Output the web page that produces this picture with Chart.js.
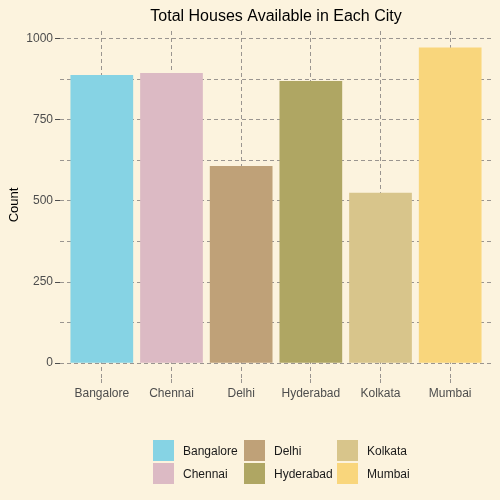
<!DOCTYPE html>
<html>
<head>
<meta charset="utf-8">
<script src="https://cdn.jsdelivr.net/npm/chart.js@4"></script>
<style>
  html, body { margin: 0; padding: 0; background: #FCF3DE; }
  #wrap { position: relative; width: 500px; height: 500px; }
  #legend {
    position: absolute; left: 153px; top: 440px;
    display: grid; grid-template-rows: 21px 21px; grid-auto-flow: column;
    grid-template-columns: 91px 93px 100px; row-gap: 2px;
    font: 12px "Liberation Sans", Arial, sans-serif; color: #1a1a1a;
  }
  .item { display: flex; align-items: center; }
  .sw { width: 21px; height: 21px; margin-right: 9px; }
</style>
</head>
<body>
<div id="wrap">
  <canvas id="chart" width="500" height="500"></canvas>
  <div id="legend"></div>
</div>
<script>
const cities = ["Bangalore", "Chennai", "Delhi", "Hyderabad", "Kolkata", "Mumbai"];
const counts = [888, 894, 608, 870, 525, 973];
const colors = ["#86D3E4", "#DCBAC4", "#BFA178", "#AFA663", "#D8C58B", "#F9D67C"];
const yTicks = [0, 125, 250, 375, 500, 625, 750, 875, 1000];

const gridColor = "#9a9590";
const font = "'Liberation Sans', Arial, sans-serif";

// title centred over the plot panel
const panelTitle = {
    id: "panelTitle",
    afterDraw(chart) {
        const ctx = chart.ctx, a = chart.chartArea;
        ctx.save();
        ctx.font = "16px " + font;
        ctx.fillStyle = "#000";
        ctx.textAlign = "center";
        ctx.textBaseline = "middle";
        ctx.fillText("Total Houses Available in Each City", (a.left + a.right) / 2, 17);
        ctx.restore();
    }
};

new Chart(document.getElementById("chart"), {
    type: "bar",
    data: {
        datasets: [{
            data: counts.map((v, i) => ({x: i, y: v})),
            backgroundColor: colors,
            barPercentage: 0.9,
            categoryPercentage: 1
        }]
    },
    options: {
        responsive: false,
        animation: false,
        layout: { padding: { left: 0, right: 8, top: 31, bottom: 91 } },
        plugins: { legend: { display: false }, tooltip: { enabled: false } },
        scales: {
            x: {
                type: "linear", min: -0.6, max: 5.6, offset: false,
                afterBuildTicks: s => { s.ticks = cities.map((c, i) => ({value: i})); },
                afterFit: s => { s.height = 30; },
                border: { display: false, dash: [4, 3] },
                grid: {
                    offset: false, color: gridColor, tickLength: 4,
                    tickColor: gridColor, tickBorderDash: [4, 3]
                },
                ticks: {
                    callback: v => cities[v], padding: 3,
                    color: "#4D4D4D", font: { family: font, size: 12 }
                }
            },
            y: {
                min: -48.75, max: 1023.75,
                afterBuildTicks: s => { s.ticks = yTicks.map(v => ({value: v})); },
                afterFit: s => { s.width = 60; },
                border: { display: false, dash: [4, 3] },
                title: {
                    display: true, text: "Count", color: "#000",
                    font: { family: font, size: 13 }, padding: { top: 7, bottom: 4 }
                },
                grid: {
                    color: gridColor, tickLength: 5,
                    tickColor: c => (c.tick && c.tick.value % 250 === 0) ? "#4D4D4D" : "rgba(0,0,0,0)",
                    tickBorderDash: []
                },
                ticks: {
                    callback: v => v % 250 === 0 ? String(v) : "",
                    padding: 2, color: "#4D4D4D", font: { family: font, size: 12 }
                }
            }
        }
    },
    plugins: [panelTitle]
});

// legend: two rows, filled column by column
const legend = document.getElementById("legend");
cities.forEach((c, i) => {
    const item = document.createElement("div");
    item.className = "item";
    item.innerHTML = `<span class="sw" style="background:${colors[i]}"></span><span>${c}</span>`;
    legend.appendChild(item);
});
</script>
</body>
</html>
